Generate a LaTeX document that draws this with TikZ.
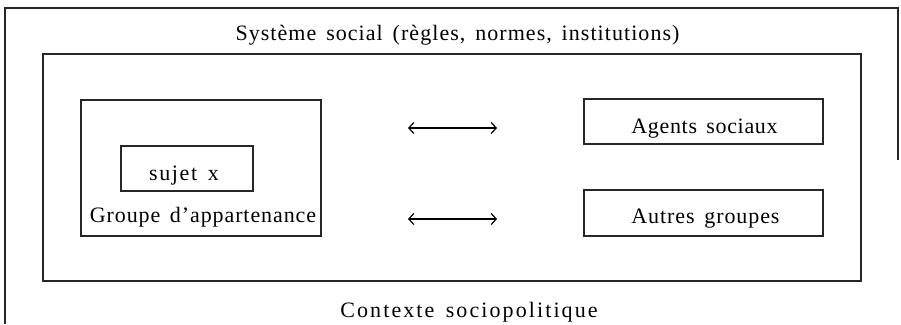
\documentclass[tikz,border=0pt]{standalone}
\usepackage{fontspec}
\setmainfont{Liberation Serif}[WordSpace=1.5]
\usetikzlibrary{arrows.meta}
\begin{document}
\begin{tikzpicture}[x=1pt,y=-1pt,
  frame/.style={draw=black!85,line width=1.2pt},
  box/.style={draw=black!85,line width=1.2pt,inner sep=0pt},
  lbl/.style={font=\fontsize{22}{26}\selectfont\addfontfeatures{LetterSpace=#1},inner sep=0pt,anchor=base},
  lbl/.default=4,
  dbl/.style={line width=1.2pt,{Straight Barb[length=5pt,width=11pt]}-{Straight Barb[length=5pt,width=11pt]}}]
\useasboundingbox (0,0) rectangle (901,324);
% outer context frame (cut by the page)
\draw[frame] (5,324) -- (5,8) -- (898,8) -- (898,160);
% social system frame
\node[box,minimum width=818pt,minimum height=227pt] (sys) at (452,167.5) {};
\node[lbl=4.8] (systitle) at (457.5,40) {Système social (règles, normes, institutions)};
\node[lbl=9.5] (ctx) at (469,317) {Contexte sociopolitique};
% group of belonging
\node[box,minimum width=240pt,minimum height=136pt] (grp) at (201,168) {};
\node[box,minimum width=132pt,minimum height=45pt] (suj) at (187,168.5) {};
\node[lbl=7.5] (sujlbl) at (184,180) {sujet x};
\node[lbl=4.1] (grplbl) at (203,222) {Groupe d'appartenance};
% right boxes
\node[box,minimum width=239pt,minimum height=45pt] (agents) at (703.5,121.5) {};
\node[lbl=3.1] (agentslbl) at (704.5,133) {Agents sociaux};
\node[box,minimum width=239pt,minimum height=46pt] (autres) at (703.5,213) {};
\node[lbl=4.2] (autreslbl) at (705.5,223) {Autres groupes};
% arrows
\coordinate (a1l) at (408,128);
\coordinate (a1r) at (497,128);
\coordinate (a2l) at (408,219);
\coordinate (a2r) at (497,219);
\draw[dbl] (a1l) -- (a1r);
\draw[dbl] (a2l) -- (a2r);
\end{tikzpicture}
\end{document}
